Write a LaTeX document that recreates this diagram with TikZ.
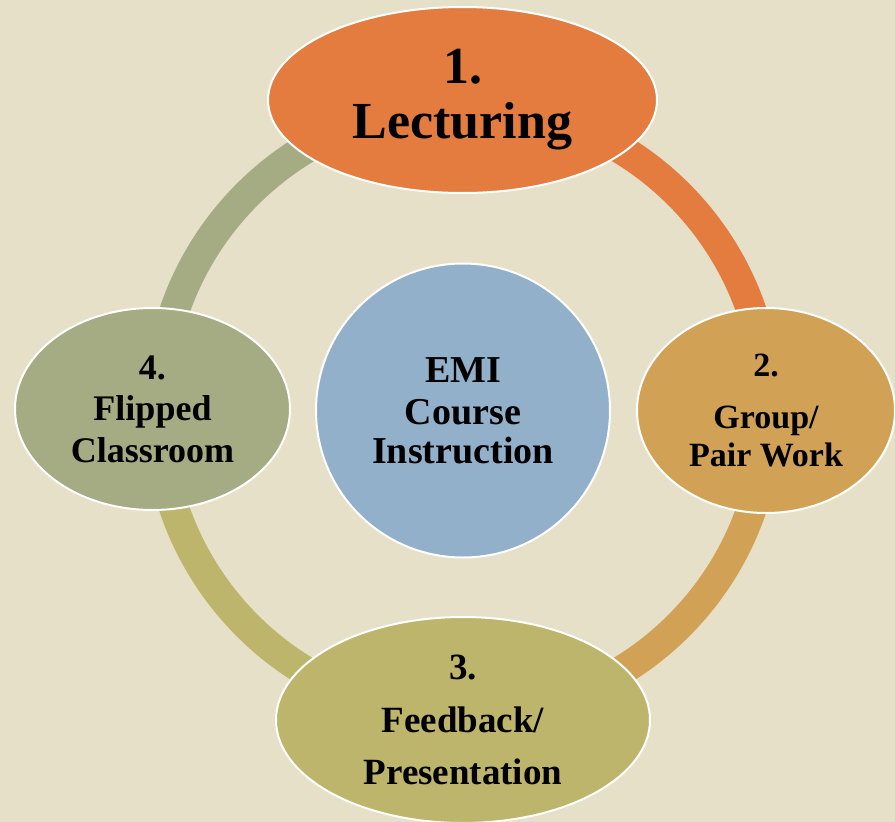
\documentclass[tikz,border=0pt]{standalone}
\usepackage{fontspec}
\setmainfont{Liberation Serif}
\usetikzlibrary{shapes.geometric}
\definecolor{bgcream}{HTML}{E6E0C9}
\definecolor{cOrange}{HTML}{E37C3E}
\definecolor{cGold}{HTML}{D1A255}
\definecolor{cOlive}{HTML}{BDB56C}
\definecolor{cSage}{HTML}{A5AB82}
\definecolor{cBlue}{HTML}{92B0CA}
\tikzset{
  ringarc/.style={line width=30pt},
  stage/.style={ellipse, draw=white, line width=2pt, inner sep=0pt,
    align=center, text=black},
  hub/.style={circle, draw=white, line width=2pt, inner sep=0pt,
    align=center, text=black, fill=cBlue},
  fsz/.style 2 args={font=\bfseries\fontsize{#1}{#2}\selectfont}
}
\begin{document}
\begin{tikzpicture}[x=1pt,y=-1pt]
  \useasboundingbox (0,0) rectangle (895,822);
  \clip (0,0) rectangle (895,822);
  \fill[bgcream] (0,0) rectangle (895,822);

  % ring segments, clockwise from the top
  \coordinate (ctr) at (463,410);
  \draw[ringarc, cOrange] (ctr) ++(270:305) arc[start angle=270, end angle=360, radius=305];
  \draw[ringarc, cGold]   (ctr) ++(0:305)   arc[start angle=0,   end angle=90,  radius=305];
  \draw[ringarc, cOlive]  (ctr) ++(90:305)  arc[start angle=90,  end angle=180, radius=305];
  \draw[ringarc, cSage]   (ctr) ++(180:305) arc[start angle=180, end angle=270, radius=305];

  % centre circle
  \node[hub, fsz={38}{41}, minimum size=294pt] (hub) at (463,410.5)
    {EMI\\[1pt] Course\\[-2pt] Instruction};

  % the four stages
  \node[stage, fsz={52}{55}, fill=cOrange, minimum width=389pt, minimum height=186pt] (s1) at (462.5,100)
    {1.\\ Lecturing};
  \node[stage, fsz={34}{40}, fill=cGold, minimum width=258pt, minimum height=205pt] (s2) at (766,410.5)
    {2.\\[12pt] Group/\\[-2pt] Pair Work};
  \node[stage, fsz={37}{52}, fill=cOlive, minimum width=374pt, minimum height=206pt] (s3) at (463,720)
    {3.\\[1pt] Feedback/\\ Presentation};
  \node[stage, fsz={36}{41.5}, fill=cSage, minimum width=275pt, minimum height=202pt] (s4) at (152.5,409)
    {4.\\ Flipped\\ Classroom};
\end{tikzpicture}
\end{document}
